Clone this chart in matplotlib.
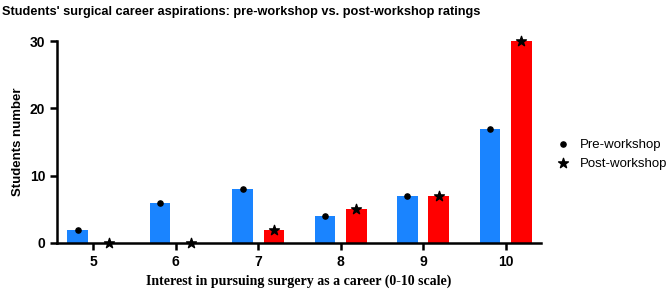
import matplotlib
matplotlib.use("Agg")
import matplotlib.pyplot as plt
import numpy as np

# ratings 5..10, students per rating
ratings = [5, 6, 7, 8, 9, 10]
pre_workshop = [2, 6, 8, 4, 7, 17]
post_workshop = [0, 0, 2, 5, 7, 30]

plt.rcParams['font.family'] = ['Liberation Sans', 'DejaVu Sans']

fig = plt.figure(figsize=(6.69, 2.91), dpi=100)
ax = fig.add_axes([0.0852, 0.165, 0.7235, 0.694])

x = np.array(ratings)
off = 0.19
w = 0.25
ax.bar(x - off, pre_workshop, width=w, color='#1a84ff')
ax.bar(x + off, post_workshop, width=w, color='#ff0000')
ax.scatter(x - off, pre_workshop, marker='o', s=14, color='black', zorder=3,
           clip_on=False, label='Pre-workshop')
ax.scatter(x + off, post_workshop, marker='*', s=55, color='black', zorder=3,
           clip_on=False, label='Post-workshop')

ax.set_xlim(4.56, 10.43)
ax.set_ylim(0, 30)
ax.set_xticks(ratings)
ax.set_yticks([0, 10, 20, 30])
for s in ['top', 'right']:
    ax.spines[s].set_visible(False)
for s in ['left', 'bottom']:
    ax.spines[s].set_linewidth(1.8)
ax.tick_params(width=1.8, length=5, labelsize=10)
for lab in ax.get_xticklabels() + ax.get_yticklabels():
    lab.set_fontweight('bold')

ax.set_ylabel('Students number', fontsize=9.5, fontweight='bold')
ax.set_xlabel('Interest in pursuing surgery as a career (0-10 scale)',
              fontsize=10, fontweight='bold', family='Liberation Serif', labelpad=4)
fig.text(0.003, 0.98, "Students' surgical career aspirations: pre-workshop vs. post-workshop ratings",
         fontsize=9.2, fontweight='bold', va='top', ha='left')

ax.legend(loc='center left', bbox_to_anchor=(0.822, 0.47), bbox_transform=fig.transFigure,
          frameon=False, fontsize=9.5, handletextpad=0.3, labelspacing=0.5,
          borderaxespad=0, borderpad=0)

fig.savefig('out.png', dpi=100)
